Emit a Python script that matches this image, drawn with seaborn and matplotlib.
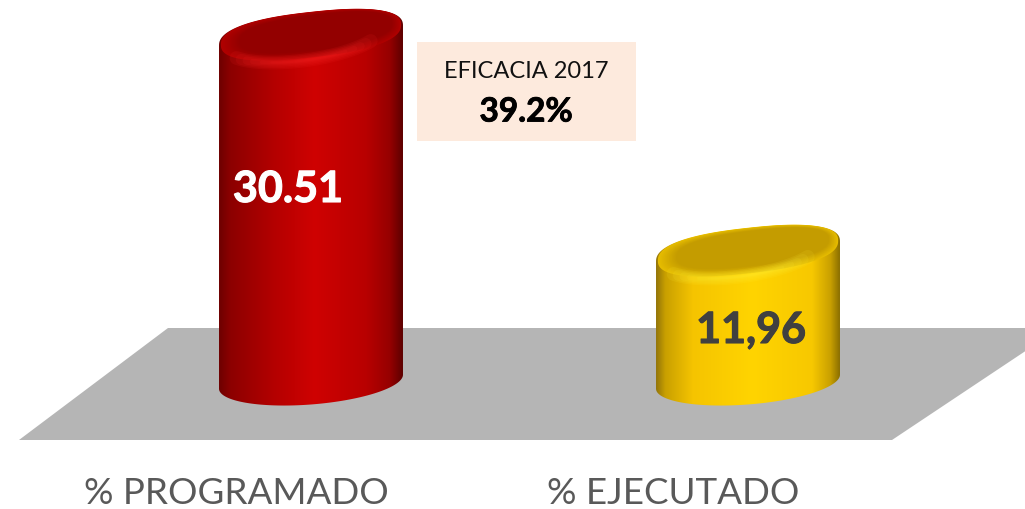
import numpy as np
import pandas as pd
import seaborn as sns
import matplotlib.pyplot as plt
import matplotlib.patheffects as pe
from matplotlib.colors import LinearSegmentedColormap, to_rgb
from matplotlib.patches import Polygon, Rectangle
from matplotlib.transforms import ScaledTranslation

categories = ['% PROGRAMADO', '% EJECUTADO']
values = [30.51, 11.96]
value_labels = ['30.51', '11,96']
box_title = 'EFICACIA 2017'
box_value = '39.2%'

W, H = 1025, 509
sns.set_theme(style='white')
plt.rcParams['font.family'] = ['Lato', 'DejaVu Sans']

# (position, colour) across the width of each cylinder
side_colors = [
    [(0, '#6e0000'), (0.06, '#8c0000'), (0.3, '#b40000'), (0.52, '#cf0202'),
     (0.8, '#b80000'), (0.93, '#960000'), (1, '#5e0000')],
    [(0, '#94760a'), (0.05, '#c9a000'), (0.2, '#f5c400'), (0.52, '#ffd400'),
     (0.85, '#f7c800'), (0.95, '#c9a000'), (1, '#8c7000')],
]
rim_colors = ['#b00000', '#e6bc00']
face_colors = ['#930000', '#c49c00']
glow_colors = ['#ff2a2a', '#fff23a']
label_colors = ['white', '#404040']
label_centers = [(288, 189), (751, 330)]

PX_PER_UNIT = 11.64
BASE_LEVEL = 0.8   # bars stand on the floor a bit above zero
CAP_B = 24 / PX_PER_UNIT
CAP_K = 10 / PX_PER_UNIT


def px(x, y):
    return x / W, 1 - y / H


def ellipse(cx, cy, a, b, k, t0=0, t1=360, n=160, p=0.82):
    t = np.radians(np.linspace(t0, t1, n))
    c = np.sign(np.cos(t)) * np.abs(np.cos(t)) ** p
    s = np.sign(np.sin(t)) * np.abs(np.sin(t)) ** p
    return np.column_stack([cx + a * c, cy + b * s + k * c])


def draw_cylinder(ax, bar, i):
    a = bar.get_width() / 2
    cx = bar.get_x() + a
    top = bar.get_height()
    body = np.vstack([
        ellipse(cx, BASE_LEVEL, a, CAP_B * 0.95, CAP_K * 0.7, 180, 360, p=1),
        ellipse(cx, top, a, CAP_B, CAP_K, 0, 180),
    ])
    clip = Polygon(body, closed=True, transform=ax.transData, fc='none', ec='none')
    ax.add_patch(clip)
    cmap = LinearSegmentedColormap.from_list('side', side_colors[i])
    im = ax.imshow(np.linspace(0, 1, 256)[None, :], cmap=cmap, aspect='auto',
                   extent=(cx - a, cx + a, BASE_LEVEL - 4, top + 4), zorder=2)
    im.set_clip_path(clip)

    # bevel blends from the rim colour into the flat top face
    c0, c1 = np.array(to_rgb(rim_colors[i])), np.array(to_rgb(face_colors[i]))
    for s in np.linspace(0, 1, 14):
        pts = ellipse(cx + a * 0.05 * s, top + 0.1 + 0.2 * s, a * (0.98 - 0.15 * s),
                      CAP_B * (0.95 - 0.22 * s), CAP_K * (1 - 0.1 * s))
        patch = Polygon(pts, fc=c0 + (c1 - c0) * s, ec='none', zorder=3)
        ax.add_patch(patch)
        patch.set_clip_path(clip)

    # soft highlight along the front of the rim
    for lw, span in zip([10, 8, 6, 4, 2.5, 1.5], [58, 52, 46, 40, 32, 24]):
        arc = ellipse(cx - a * 0.08, top - 0.1, a * 0.86, CAP_B * 0.98, CAP_K,
                      270 - span, 270 + span, p=1)
        line, = ax.plot(arc[:, 0], arc[:, 1], color=glow_colors[i], lw=lw, alpha=0.1,
                        solid_capstyle='round', zorder=4)
        line.set_clip_path(clip)


fig = plt.figure(figsize=(W / 100, H / 100), dpi=100)
fig.patch.set_facecolor('white')
ax = fig.add_axes([0, 39 / H, 1, 470 / H])

df = pd.DataFrame({'category': categories, 'value': values})
sns.barplot(data=df, x='category', y='value', order=categories, width=0.421, ax=ax)
bars = list(ax.patches)

# grey floor sits behind the cylinders
floor = [px(168, 328), px(1060, 328), px(892, 440), px(19, 440)]
ax.add_patch(Polygon(floor, closed=True, transform=fig.transFigure, fc='#b5b5b5', ec='none',
                     zorder=0.5, clip_on=False))

for i, bar in enumerate(bars):
    bar.set_visible(False)
    draw_cylinder(ax, bar, i)

ax.set_xlim(-311 / 437, (W - 311) / 437)
ax.set_ylim((391 - 470) / PX_PER_UNIT, 391 / PX_PER_UNIT)
ax.set_xlabel('')
ax.set_ylabel('')
ax.set_yticks([])
ax.set_xticks(range(len(categories)))
ax.set_xticklabels(categories)
ax.tick_params(axis='x', length=0, pad=5, labelsize=26.5, labelcolor='#595959')
shift = ScaledTranslation(-75 / 100, 0, fig.dpi_scale_trans)
for lab in ax.get_xticklabels():
    lab.set_transform(lab.get_transform() + shift)
sns.despine(ax=ax, left=True, bottom=True)
ax.patch.set_alpha(0)

for text, color, (x, y) in zip(value_labels, label_colors, label_centers):
    fx, fy = px(x, y)
    fig.text(fx, fy, text, color=color, fontsize=31, fontweight='bold', ha='center',
             va='center', zorder=10,
             path_effects=[pe.withStroke(linewidth=0.8, foreground=color)])

# efficacy box
x0, y0 = px(417, 141)
x1, y1 = px(636, 42)
fig.add_artist(Rectangle((x0, y0), x1 - x0, y1 - y0, transform=fig.transFigure,
                         fc='#fdeadd', ec='none', zorder=6))
fx, fy = px(526, 71)
fig.text(fx, fy, box_title, color='#111111', fontsize=17, ha='center', va='center', zorder=10)
fx, fy = px(526, 112)
fig.text(fx, fy, box_value, color='black', fontsize=24, fontweight='bold', ha='center',
         va='center', zorder=10, path_effects=[pe.withStroke(linewidth=0.6, foreground='black')])

fig.savefig('out.png', dpi=100)
